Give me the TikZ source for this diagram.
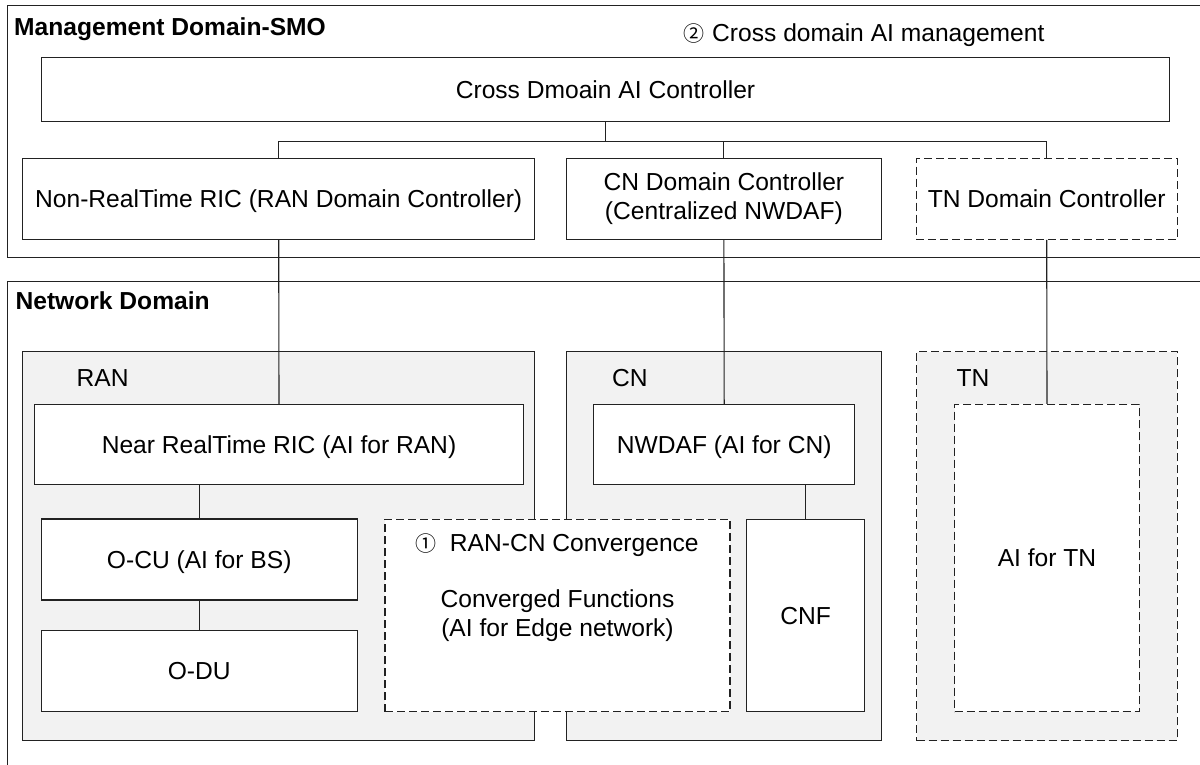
\documentclass[tikz,border=0pt]{standalone}
\usepackage{fontspec}
\setmainfont{Liberation Sans}
\newfontfamily\cjkfont{Noto Sans CJK SC}
\definecolor{linec}{HTML}{222222}
\definecolor{grayf}{HTML}{F2F2F2}
\newcommand{\circnum}[1]{{\cjkfont\fontsize{21}{21}\selectfont #1}}
\begin{document}
\begin{tikzpicture}[x=1pt,y=-1pt,
  every node/.style={font=\fontsize{24.6}{29}\selectfont, text=black},
  lbox/.style={draw=linec, line width=1.1pt, fill=white, inner sep=0pt, align=center},
  single/.style={text height=17.6pt, text depth=0pt},
  dashbox/.style={dash pattern=on 8pt off 4pt},
  graybox/.style={draw=linec, line width=1.1pt, fill=grayf, inner sep=0pt},
  outerbox/.style={draw=linec, line width=1.1pt, inner sep=0pt, anchor=north west},
  titlelab/.style={anchor=base west, inner sep=0pt, font=\fontsize{24.6}{29}\selectfont\bfseries},
  lab/.style={anchor=base west, inner sep=0pt},
  conn/.style={draw=linec, line width=1.1pt}
]
\useasboundingbox (0,0) rectangle (1200,765);
\clip (0,0) rectangle (1200,765);

% outer domains
\node[outerbox, minimum width=1215pt, minimum height=252pt] (mgmt) at (7.3,4.7) {};
\node[outerbox, minimum width=1215pt, minimum height=500pt] (netdom) at (7.3,280.5) {};
\node[titlelab] (mgmtlab) at (14,36) {Management Domain-SMO};
\node[titlelab] (netlab) at (15.4,309) {Network Domain};
\node[lab] (crossai) at (683.7,41.7) {\circnum{②}\hspace{7.3pt}Cross domain AI management};

% management domain boxes
\node[lbox, single, minimum width=1127.6pt, minimum height=64.4pt] (cross) at (605.5,89.5) {Cross Dmoain AI Controller};
\node[lbox, single, minimum width=512pt, minimum height=81pt] (nonrt) at (278.7,198.8) {Non-RealTime RIC (RAN Domain Controller)};
\node[lbox, minimum width=315.2pt, minimum height=81pt] (cndc) at (723.9,198.8) {CN Domain Controller\\(Centralized NWDAF)};
\node[lbox, dashbox, single, minimum width=261.3pt, minimum height=81pt] (tndc) at (1046.7,198.8) {TN Domain Controller};

% network domain groups
\node[graybox, minimum width=512pt, minimum height=389.2pt] (ran) at (278.7,546.1) {};
\node[graybox, minimum width=315.2pt, minimum height=389.2pt] (cn) at (723.9,546.1) {};
\node[graybox, dashbox, minimum width=260.6pt, minimum height=389.2pt] (tn) at (1047,546.1) {};
\node[lab] (ranlab) at (76.5,386) {RAN};
\node[lab] (cnlab) at (612,386) {CN};
\node[lab] (tnlab) at (956.5,386) {TN};

% inner boxes
\node[lbox, single, minimum width=488.6pt, minimum height=80pt] (nearrt) at (279,444.3) {Near RealTime RIC (AI for RAN)};
\node[lbox, single, minimum width=261pt, minimum height=80pt] (nwdaf) at (724.2,444.3) {NWDAF (AI for CN)};
\node[lbox, dashbox, single, minimum width=184.6pt, minimum height=307.4pt] (aitn) at (1047,558) {AI for TN};
\node[lbox, single, minimum width=316.3pt, minimum height=81pt] (ocu) at (199.2,559.5) {O-CU (AI for BS)};
\node[lbox, single, minimum width=316.3pt, minimum height=81.4pt] (odu) at (199.2,671) {O-DU};
\node[lbox, dashbox, minimum width=345pt, minimum height=192.7pt] (conv) at (557.5,615.4) {Converged Functions\\(AI for Edge network)};
\node[lbox, single, minimum width=118pt, minimum height=192.7pt] (cnf) at (805.7,615.4) {CNF};
\node[lab] (convlab) at (415,551) {\circnum{①}\hspace{13.7pt}RAN-CN Convergence};

% connectors
\coordinate (busy) at (0,141.3);
\draw[conn] (cross.south) -- (cross.south |- busy);
\draw[conn] (nonrt.north) -- (nonrt.north |- busy) -- (tndc.north |- busy) -- (tndc.north);
\draw[conn] (cndc.north) -- (cndc.north |- busy);
\draw[conn] (nonrt.south) -- (nearrt.north);
\draw[conn] (cndc.south) -- (nwdaf.north);
\draw[conn] (tndc.south) -- (aitn.north);
\draw[conn] (ocu.north |- nearrt.south) -- (ocu.north);
\draw[conn] (ocu.south) -- (odu.north);
\draw[conn] (cnf.north |- nwdaf.south) -- (cnf.north);
\end{tikzpicture}
\end{document}
